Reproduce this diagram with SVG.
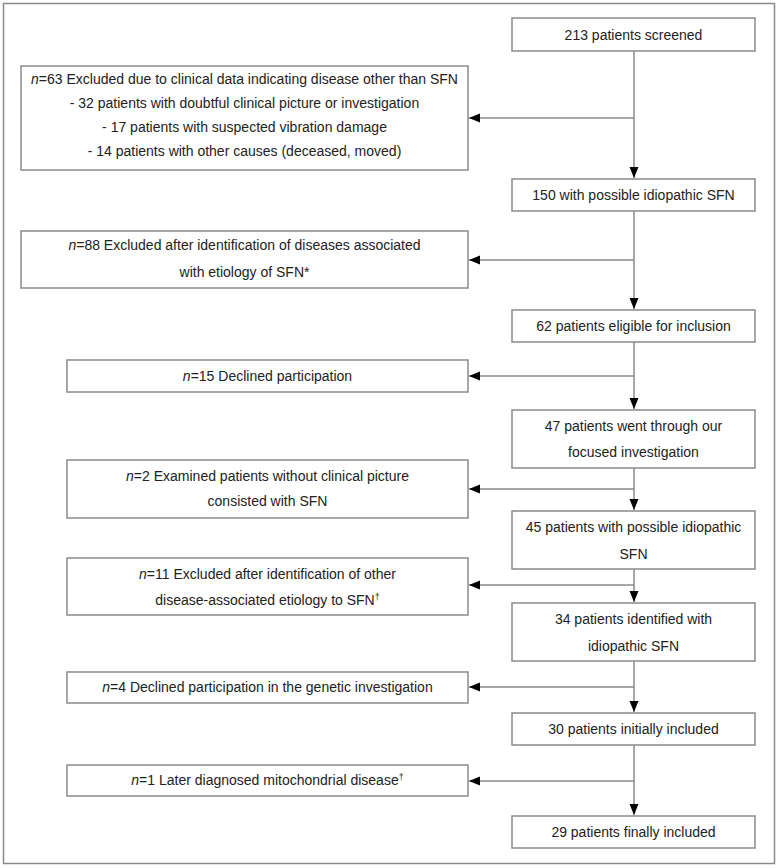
<svg xmlns="http://www.w3.org/2000/svg" width="779" height="868" viewBox="0 0 779 868">
<style>
.box{fill:#fff;stroke:#8a8a8a;stroke-width:1.5}
.t{font-family:"Liberation Sans",Arial,sans-serif;font-size:14px;fill:#222;text-anchor:middle}
.c{stroke:#8a8a8a;stroke-width:1.5;fill:none}
.sup{font-size:9px}
</style>
<defs>
<marker id="ah" markerUnits="userSpaceOnUse" markerWidth="12" markerHeight="10" refX="11" refY="4.5" orient="auto">
<path d="M0,0 L11,4.5 L0,9 z" fill="#000"/>
</marker>
</defs>
<rect x="3.5" y="3.5" width="771" height="860" fill="#fff" stroke="#8a8a8a" stroke-width="1.5"/>
<g id="connectors">
<path class="c" d="M634,51 V178" marker-end="url(#ah)"/>
<path class="c" d="M634,118 H469" marker-end="url(#ah)"/>
<path class="c" d="M634,211 V309" marker-end="url(#ah)"/>
<path class="c" d="M634,260 H469" marker-end="url(#ah)"/>
<path class="c" d="M634,342 V409" marker-end="url(#ah)"/>
<path class="c" d="M634,376 H469" marker-end="url(#ah)"/>
<path class="c" d="M634,468 V510" marker-end="url(#ah)"/>
<path class="c" d="M634,489 H469" marker-end="url(#ah)"/>
<path class="c" d="M634,569 V602" marker-end="url(#ah)"/>
<path class="c" d="M634,585 H469" marker-end="url(#ah)"/>
<path class="c" d="M634,661 V712" marker-end="url(#ah)"/>
<path class="c" d="M634,687 H469" marker-end="url(#ah)"/>
<path class="c" d="M634,745 V815" marker-end="url(#ah)"/>
<path class="c" d="M634,781 H469" marker-end="url(#ah)"/>
</g>
<g id="n213"><rect class="box" x="512" y="18" width="243" height="33"/><text class="t" x="633.5" y="39.5">213 patients screened</text></g>
<g id="ex63"><rect class="box" x="21" y="66" width="447" height="104"/>
<text class="t" x="244.5" y="84"><tspan font-style="italic">n</tspan>=63 Excluded due to clinical data indicating disease other than SFN</text>
<text class="t" x="244.5" y="108">- 32 patients with doubtful clinical picture or investigation</text>
<text class="t" x="244.5" y="132">- 17 patients with suspected vibration damage</text>
<text class="t" x="244.5" y="156">- 14 patients with other causes (deceased, moved)</text></g>
<g id="n150"><rect class="box" x="512" y="179" width="243" height="32"/><text class="t" x="633.5" y="200">150 with possible idiopathic SFN</text></g>
<g id="ex88"><rect class="box" x="21" y="231" width="447" height="57"/>
<text class="t" x="244.5" y="250"><tspan font-style="italic">n</tspan>=88 Excluded after identification of diseases associated</text>
<text class="t" x="244.5" y="277">with etiology of SFN*</text></g>
<g id="n62"><rect class="box" x="512" y="310" width="243" height="32"/><text class="t" x="633.5" y="331">62 patients eligible for inclusion</text></g>
<g id="ex15"><rect class="box" x="67" y="360" width="401" height="32"/><text class="t" x="267.5" y="381"><tspan font-style="italic">n</tspan>=15 Declined participation</text></g>
<g id="n47"><rect class="box" x="512" y="410" width="243" height="58"/>
<text class="t" x="633.5" y="431">47 patients went through our</text>
<text class="t" x="633.5" y="457">focused investigation</text></g>
<g id="ex2"><rect class="box" x="67" y="460" width="401" height="58"/>
<text class="t" x="267.5" y="481"><tspan font-style="italic">n</tspan>=2 Examined patients without clinical picture</text>
<text class="t" x="267.5" y="506">consisted with SFN</text></g>
<g id="n45"><rect class="box" x="512" y="511" width="243" height="58"/>
<text class="t" x="633.5" y="532">45 patients with possible idiopathic</text>
<text class="t" x="633.5" y="559">SFN</text></g>
<g id="ex11"><rect class="box" x="67" y="558" width="401" height="57"/>
<text class="t" x="267.5" y="579"><tspan font-style="italic">n</tspan>=11 Excluded after identification of other</text>
<text class="t" x="267.5" y="605">disease-associated etiology to SFN<tspan class="sup" dy="-5">†</tspan></text></g>
<g id="n34"><rect class="box" x="512" y="603" width="243" height="58"/>
<text class="t" x="633.5" y="624">34 patients identified with</text>
<text class="t" x="633.5" y="651">idiopathic SFN</text></g>
<g id="ex4"><rect class="box" x="67" y="672" width="401" height="31"/><text class="t" x="267.5" y="692"><tspan font-style="italic">n</tspan>=4 Declined participation in the genetic investigation</text></g>
<g id="n30"><rect class="box" x="512" y="713" width="243" height="32"/><text class="t" x="633.5" y="734">30 patients initially included</text></g>
<g id="ex1"><rect class="box" x="67" y="765" width="401" height="31"/><text class="t" x="267.5" y="785"><tspan font-style="italic">n</tspan>=1 Later diagnosed mitochondrial disease<tspan class="sup" dy="-5">†</tspan></text></g>
<g id="n29"><rect class="box" x="512" y="816" width="243" height="32"/><text class="t" x="633.5" y="837">29 patients finally included</text></g>
</svg>
